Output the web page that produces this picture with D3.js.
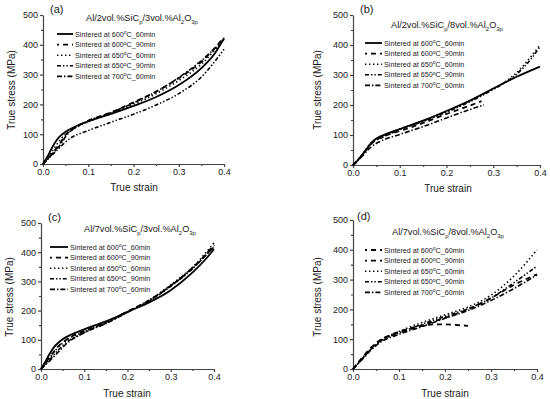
<!DOCTYPE html>
<html>
<head>
<meta charset="utf-8">
<script src="https://cdn.jsdelivr.net/npm/d3@7"></script>
<style>
  body { margin: 0; background: #fff; }
  svg { display: block; font-family: "Liberation Sans", Arial, sans-serif; }
</style>
</head>
<body>
<svg id="chart" width="550" height="399"></svg>
<script>
// series names (legend), same order in every panel
const seriesNames = ["600", "600", "650", "650", "700"];
const seriesTimes = ["60min", "90min", "60min", "90min", "60min"];

const xTicks = [0, 0.1, 0.2, 0.3, 0.4];
const yTicks = [0, 100, 200, 300, 400, 500];

// panel titles: [main, sub, main, sub, main, sub]
const titleA = ["Al/2vol.%SiC", "p", "/3vol.%Al", "2", "O", "3p"];
const titleB = ["Al/2vol.%SiC", "p", "/8vol.%Al", "2", "O", "3p"];
const titleC = ["Al/7vol.%SiC", "p", "/3vol.%Al", "2", "O", "3p"];
const titleD = ["Al/7vol.%SiC", "p", "/8vol.%Al", "2", "O", "3p"];

// (strain, stress MPa)
const curvesA = [
  [[0,0],[0.01,25],[0.02,55],[0.03,80],[0.04,97],[0.05,108],[0.07,125],[0.1,143],[0.15,168],[0.2,195],[0.25,225],[0.3,265],[0.35,322],[0.38,372],[0.4,422]],
  [[0,0],[0.02,35],[0.04,75],[0.05,98],[0.07,122],[0.1,145],[0.15,173],[0.2,207],[0.25,243],[0.3,288],[0.35,343],[0.4,425]],
  [[0,0],[0.02,42],[0.04,85],[0.06,110],[0.1,142],[0.15,168],[0.2,200],[0.25,236],[0.3,280],[0.35,335],[0.4,420]],
  [[0,0],[0.02,30],[0.04,60],[0.06,86],[0.1,112],[0.15,140],[0.2,167],[0.25,198],[0.3,236],[0.35,292],[0.4,385]],
  [[0,0],[0.02,33],[0.04,68],[0.05,92],[0.08,130],[0.1,145],[0.15,172],[0.2,205],[0.25,243],[0.3,290],[0.35,347],[0.4,418]]
];
const curvesB = [
  [[0,0],[0.01,15],[0.02,35],[0.03,55],[0.04,75],[0.05,88],[0.07,103],[0.1,120],[0.15,148],[0.2,180],[0.25,215],[0.3,255],[0.35,294],[0.4,328]],
  [[0,0],[0.01,14],[0.02,33],[0.03,53],[0.04,72],[0.05,84],[0.07,98],[0.1,113],[0.15,140],[0.2,170],[0.25,198],[0.275,213]],
  [[0,0],[0.02,36],[0.04,76],[0.06,92],[0.1,120],[0.15,147],[0.2,178],[0.25,213],[0.3,254],[0.32,272],[0.35,308],[0.38,360],[0.4,400]],
  [[0,0],[0.02,34],[0.04,74],[0.06,90],[0.1,118],[0.15,145],[0.2,176],[0.25,211],[0.3,252],[0.32,270],[0.35,303],[0.38,352],[0.4,395]],
  [[0,0],[0.02,30],[0.04,62],[0.06,80],[0.1,102],[0.15,128],[0.2,157],[0.25,185],[0.28,200]]
];
const curvesC = [
  [[0,0],[0.01,25],[0.02,52],[0.03,75],[0.04,90],[0.05,102],[0.07,118],[0.1,136],[0.15,163],[0.2,196],[0.25,228],[0.3,270],[0.35,330],[0.38,375],[0.4,410]],
  [[0,0],[0.02,40],[0.04,78],[0.06,102],[0.1,130],[0.15,160],[0.2,197],[0.25,235],[0.3,285],[0.35,345],[0.4,425]],
  [[0,0],[0.02,38],[0.04,75],[0.06,100],[0.1,128],[0.15,158],[0.2,196],[0.25,236],[0.3,288],[0.35,348],[0.4,432]],
  [[0,0],[0.02,32],[0.04,65],[0.06,92],[0.1,125],[0.15,157],[0.2,195],[0.25,233],[0.3,283],[0.35,343],[0.4,420]],
  [[0,0],[0.02,28],[0.04,58],[0.06,88],[0.1,124],[0.15,156],[0.2,194],[0.25,234],[0.3,286],[0.35,346],[0.4,418]]
];
const curvesD = [
  [[0,0],[0.02,35],[0.04,70],[0.06,96],[0.08,113],[0.1,125],[0.12,135],[0.15,145],[0.18,150],[0.2,150],[0.22,148],[0.25,145]],
  [[0,0],[0.02,38],[0.04,73],[0.06,98],[0.08,112],[0.1,122],[0.15,146],[0.2,172],[0.25,200],[0.3,238],[0.35,282],[0.4,318]],
  [[0,0],[0.02,36],[0.04,70],[0.06,96],[0.1,126],[0.15,156],[0.2,182],[0.25,208],[0.3,248],[0.35,312],[0.4,400]],
  [[0,0],[0.02,34],[0.04,68],[0.06,94],[0.1,121],[0.15,150],[0.2,177],[0.25,202],[0.3,238],[0.35,290],[0.4,345]],
  [[0,0],[0.02,32],[0.04,65],[0.06,90],[0.1,116],[0.15,142],[0.2,170],[0.25,196],[0.3,230],[0.35,270],[0.4,316]]
];

// line styles per series
const styles = [
  { dash: null, w: 1.8 },
  { dash: "5,4", w: 1.8 },
  { dash: "1.4,2.6", w: 1.6 },
  { dash: "4,2,1.4,2,1.4,2", w: 1.6 },
  { dash: "5,2,1.4,2", w: 1.6 }
];

const panels = [
  { tag: "(a)", title: titleA, curves: curvesA, x0: 43, x1: 224, y0: 164, y1: 15,
    tagX: 50, tagY: 13, titleX: 142, titleY: 21, legX: 57, legW: 16, legY: 34, xlX: 134, xlY: 191, ylX: 15, ylY: 90 },
  { tag: "(b)", title: titleB, curves: curvesB, x0: 353, x1: 540, y0: 165, y1: 15,
    tagX: 360, tagY: 13, titleX: 447, titleY: 28, legX: 365, legW: 17, legY: 43, xlX: 448, xlY: 192, ylX: 321, ylY: 90 },
  { tag: "(c)", title: titleC, curves: curvesC, x0: 41, x1: 214, y0: 369, y1: 223,
    tagX: 48, tagY: 221, titleX: 140, titleY: 232, legX: 50, legW: 18, legY: 247, xlX: 127, xlY: 397, ylX: 13, ylY: 297 },
  { tag: "(d)", title: titleD, curves: curvesD, x0: 353, x1: 537, y0: 369, y1: 220,
    tagX: 357, tagY: 220, titleX: 448, titleY: 235, legX: 365, legW: 17, legY: 250, xlX: 445, xlY: 397, ylX: 321, ylY: 297, firstDashed: true }
];

const svg = d3.select("#chart");
const ink = "#1a1a1a";

panels.forEach(p => {
  const x = d3.scaleLinear().domain([0, 0.4]).range([p.x0, p.x1]);
  const y = d3.scaleLinear().domain([0, 500]).range([p.y0, p.y1]);
  const g = svg.append("g");

  // axes, major ticks outward plus short minor ticks
  g.append("g").attr("transform", `translate(0,${p.y0})`)
    .call(d3.axisBottom(x).tickValues(xTicks).tickFormat(d3.format(".1f")).tickSize(3).tickSizeOuter(0).tickPadding(2));
  g.append("g").attr("transform", `translate(0,${p.y0})`)
    .call(d3.axisBottom(x).tickValues([0.05, 0.15, 0.25, 0.35]).tickFormat("").tickSize(2).tickSizeOuter(0))
    .select(".domain").remove();
  g.append("g").attr("transform", `translate(${p.x0},0)`)
    .call(d3.axisLeft(y).tickValues(yTicks).tickSize(3).tickSizeOuter(0).tickPadding(2));
  g.append("g").attr("transform", `translate(${p.x0},0)`)
    .call(d3.axisLeft(y).tickValues([50, 150, 250, 350, 450]).tickFormat("").tickSize(2).tickSizeOuter(0))
    .select(".domain").remove();
  g.selectAll(".domain, .tick line").attr("stroke", "#444").attr("stroke-width", 1.2);
  g.selectAll(".tick text").attr("font-size", 9).attr("fill", ink).attr("font-family", "Liberation Sans, Arial, sans-serif");

  // curves
  const line = d3.line().x(d => x(d[0])).y(d => y(d[1])).curve(d3.curveMonotoneX);
  p.curves.forEach((c, i) => {
    const st = (i === 0 && p.firstDashed) ? styles[1] : styles[i];
    g.append("path").datum(c).attr("d", line)
      .attr("fill", "none").attr("stroke", "#000").attr("stroke-width", st.w)
      .attr("stroke-dasharray", st.dash);
  });

  // legend
  seriesNames.forEach((n, i) => {
    const st = (i === 0 && p.firstDashed) ? styles[1] : styles[i];
    const ly = p.legY + i * 10.6;
    g.append("line").attr("x1", p.legX).attr("x2", p.legX + p.legW).attr("y1", ly).attr("y2", ly)
      .attr("stroke", "#000").attr("stroke-width", st.w).attr("stroke-dasharray", st.dash)
      .attr("stroke-dashoffset", st.dash === "5,4" ? 3 : 0);
    const t = g.append("text").attr("x", p.legX + p.legW + 2).attr("y", ly + 2.5)
      .attr("font-size", 7.2).attr("fill", ink);
    t.append("tspan").text("Sintered at " + n);
    t.append("tspan").attr("dy", -2.5).attr("font-size", 5).text("o");
    t.append("tspan").attr("dy", 2.5).text("C_" + seriesTimes[i]);
  });

  // title with subscripts
  const tt = g.append("text").attr("x", p.titleX).attr("y", p.titleY).attr("text-anchor", "middle")
    .attr("font-size", 9.2).attr("fill", ink);
  p.title.forEach((s, i) => {
    if (i % 2 === 0) tt.append("tspan").attr("dy", i === 0 ? 0 : -2.5).attr("font-size", 9.2).text(s);
    else tt.append("tspan").attr("dy", 2.5).attr("font-size", 6).text(s);
  });

  g.append("text").attr("x", p.tagX).attr("y", p.tagY).attr("font-size", 11).attr("fill", ink).text(p.tag);
  g.append("text").attr("x", p.xlX).attr("y", p.xlY).attr("text-anchor", "middle")
    .attr("font-size", 10).attr("fill", ink).text("True strain");
  g.append("text").attr("transform", `translate(${p.ylX},${p.ylY}) rotate(-90)`).attr("text-anchor", "middle")
    .attr("font-size", 10).attr("fill", ink).text("True stress (MPa)");
});
</script>
</body>
</html>
